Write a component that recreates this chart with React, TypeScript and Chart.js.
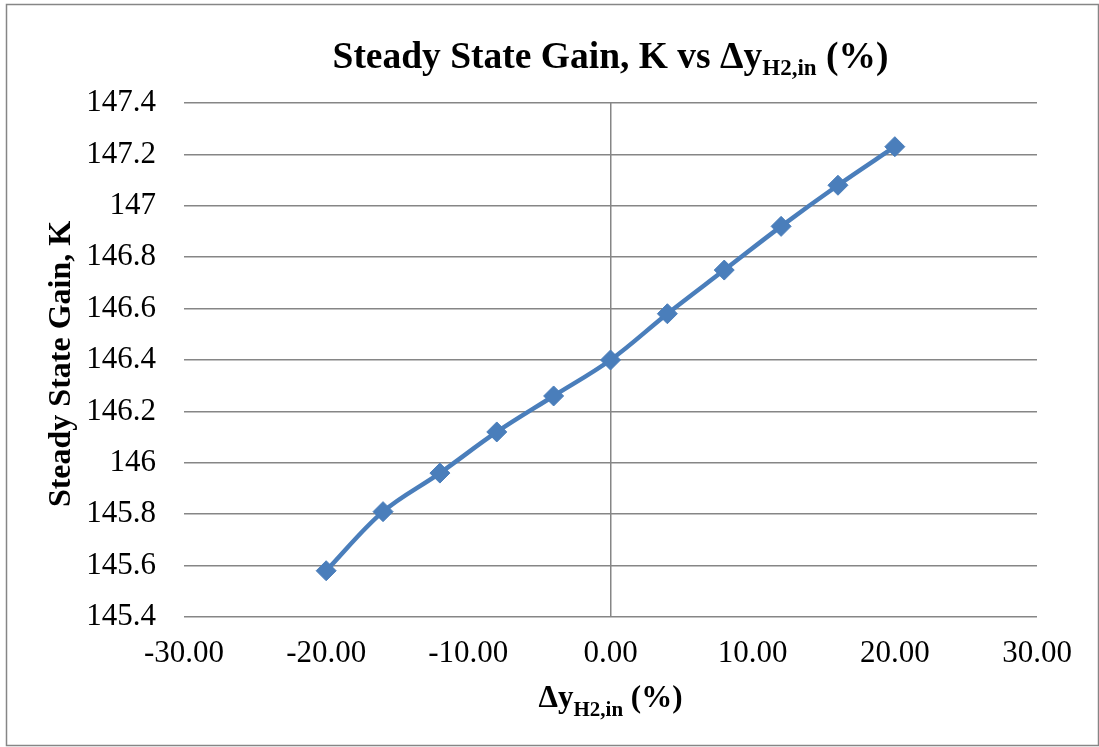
import React, { useEffect, useRef } from "react";
import { Chart, registerables } from "chart.js";

Chart.register(...registerables);

const deltaYH2 = [-20, -16, -12, -8, -4, 0, 4, 8, 12, 16, 20];
const steadyStateGain = [145.58, 145.81, 145.96, 146.12, 146.26, 146.4, 146.58, 146.75, 146.92, 147.08, 147.23];
const xTickRange = { min: -30, max: 30, step: 10 };
const yTickRange = { min: 145.4, max: 147.4, step: 0.2 };

const FONT = "'Liberation Serif', 'Times New Roman', serif";
const GRID = "#868686";
const SERIES = "#4A7EBB";

type Seg = { text: string; size: number; dy: number };

function drawRich(ctx: CanvasRenderingContext2D, segs: Seg[], cx: number, baseline: number) {
  let total = 0;
  const widths = segs.map((s) => {
    ctx.font = `bold ${s.size}px ${FONT}`;
    const w = ctx.measureText(s.text).width;
    total += w;
    return w;
  });
  let x = cx - total / 2;
  ctx.textAlign = "left";
  ctx.textBaseline = "alphabetic";
  segs.forEach((s, i) => {
    ctx.font = `bold ${s.size}px ${FONT}`;
    ctx.fillText(s.text, x, baseline + s.dy);
    x += widths[i];
  });
}

const decorPlugin = {
  id: "decor",
  beforeDraw(chart: any) {
    const ctx = chart.ctx as CanvasRenderingContext2D;
    ctx.save();
    ctx.fillStyle = "#ffffff";
    ctx.fillRect(0, 0, chart.width, chart.height);
    ctx.strokeStyle = GRID;
    ctx.lineWidth = 1.5;
    ctx.strokeRect(6.5, 4.5, chart.width - 7, chart.height - 6);
    ctx.restore();
  },
  afterDraw(chart: any) {
    const ctx = chart.ctx as CanvasRenderingContext2D;
    const area = chart.chartArea;
    const cx = (area.left + area.right) / 2;
    ctx.save();
    ctx.fillStyle = "#000000";
    drawRich(
      ctx,
      [
        { text: "Steady State Gain, K vs Δy", size: 37.5, dy: 0 },
        { text: "H2,in", size: 23, dy: 7 },
        { text: " (%)", size: 37.5, dy: 0 },
      ],
      cx,
      area.top - 35
    );
    drawRich(
      ctx,
      [
        { text: "Δy", size: 31, dy: 0 },
        { text: "H2,in", size: 21, dy: 9 },
        { text: " (%)", size: 31, dy: 0 },
      ],
      cx,
      area.bottom + 90
    );
    ctx.translate(70, (area.top + area.bottom) / 2 + 4);
    ctx.rotate(-Math.PI / 2);
    ctx.font = `bold 32px ${FONT}`;
    ctx.textAlign = "center";
    ctx.textBaseline = "alphabetic";
    ctx.fillText("Steady State Gain, K", 0, 0);
    ctx.restore();
  },
};

export default function App() {
  const ref = useRef<HTMLCanvasElement | null>(null);

  useEffect(() => {
    document.body.style.margin = "0";
    const canvas = ref.current;
    if (!canvas) return;
    const chart = new Chart(canvas, {
      type: "line",
      data: {
        datasets: [
          {
            label: "Steady State Gain, K",
            data: deltaYH2.map((x, i) => ({ x, y: steadyStateGain[i] })),
            borderColor: SERIES,
            backgroundColor: SERIES,
            borderWidth: 4.5,
            tension: 0.35,
            pointStyle: "rectRot",
            pointRadius: 10,
            pointHoverRadius: 10,
            pointBorderWidth: 1,
            pointBorderColor: SERIES,
            pointBackgroundColor: SERIES,
          },
        ],
      },
      options: {
        animation: false,
        responsive: false,
        maintainAspectRatio: false,
        devicePixelRatio: 1,
        layout: { padding: { top: 103, right: 62, bottom: 0, left: 0 } },
        plugins: {
          legend: { display: false },
          tooltip: { enabled: false },
          title: { display: false },
        },
        scales: {
          x: {
            type: "linear",
            min: xTickRange.min,
            max: xTickRange.max,
            border: { display: false },
            grid: {
              drawTicks: false,
              lineWidth: 1.5,
              color: (c: any) => (c.tick && c.tick.value === 0 ? GRID : "rgba(0,0,0,0)"),
            },
            ticks: {
              stepSize: xTickRange.step,
              padding: 18,
              color: "#000000",
              font: { family: FONT, size: 31 },
              maxRotation: 0,
              autoSkip: false,
              callback: (v: any) => Number(v).toFixed(2),
            },
            afterFit: (s: any) => {
              s.height = 130;
            },
          },
          y: {
            type: "linear",
            min: yTickRange.min,
            max: yTickRange.max,
            border: { display: false },
            grid: {
              drawTicks: false,
              lineWidth: 1.5,
              color: GRID,
            },
            ticks: {
              stepSize: yTickRange.step,
              padding: 28,
              color: "#000000",
              font: { family: FONT, size: 31 },
              autoSkip: false,
              callback: (v: any) => String(Number(Number(v).toFixed(1))),
            },
            afterFit: (s: any) => {
              s.width = 184;
            },
          },
        },
      },
      plugins: [decorPlugin],
    });
    return () => chart.destroy();
  }, []);

  return (
    <div style={{ width: 1099, height: 747 }}>
      <canvas ref={ref} width={1099} height={747} style={{ display: "block" }} />
    </div>
  );
}
